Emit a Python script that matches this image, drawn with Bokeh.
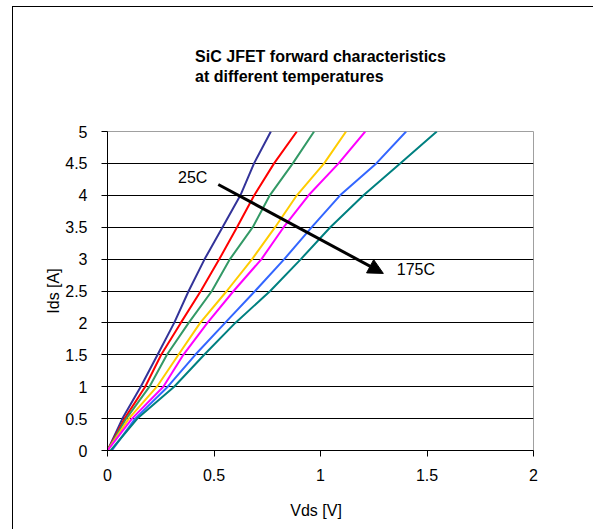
from bokeh.plotting import figure
from bokeh.models import Range1d, FixedTicker, Label, Arrow, NormalHead, InlineStyleSheet
from bokeh.embed import file_html
from bokeh.resources import INLINE

# ---- data ----
ids = [0, 0.5, 1, 1.5, 2, 2.5, 3, 3.5, 4, 4.5, 5]
vds_c1 = [0, 0.070, 0.156, 0.235, 0.313, 0.381, 0.456, 0.540, 0.624, 0.688, 0.767]
vds_c2 = [0, 0.080, 0.177, 0.252, 0.344, 0.438, 0.525, 0.608, 0.689, 0.782, 0.889]
vds_c3 = [0, 0.088, 0.197, 0.279, 0.381, 0.490, 0.575, 0.682, 0.762, 0.870, 0.970]
vds_c4 = [0, 0.100, 0.232, 0.333, 0.435, 0.560, 0.679, 0.787, 0.889, 1.017, 1.120]
vds_c5 = [0, 0.115, 0.262, 0.356, 0.469, 0.592, 0.723, 0.827, 0.944, 1.085, 1.210]
vds_c6 = [0.020, 0.130, 0.283, 0.412, 0.552, 0.693, 0.830, 0.959, 1.092, 1.262, 1.402]
vds_c7 = [0.015, 0.140, 0.313, 0.454, 0.600, 0.764, 0.908, 1.046, 1.202, 1.374, 1.546]
series = [vds_c1, vds_c2, vds_c3, vds_c4, vds_c5, vds_c6, vds_c7]
colors = ["#333399", "#FF0000", "#339966", "#FFCC00", "#FF00FF", "#3366FF", "#008080"]

x_ticks = [0, 0.5, 1, 1.5, 2]
x_tick_labels = ["0", "0.5", "1", "1.5", "2"]
y_ticks = [0, 0.5, 1, 1.5, 2, 2.5, 3, 3.5, 4, 4.5, 5]
y_tick_labels = ["0", "0.5", "1", "1.5", "2", "2.5", "3", "3.5", "4", "4.5", "5"]
grid_ticks = [0.5, 1, 1.5, 2, 2.5, 3, 3.5, 4, 4.5]

title_text = "SiC JFET forward characteristics\nat different temperatures"
label_lo = "25C"
label_hi = "175C"

FONT = "Liberation Sans"

# chart-area border (left and top edges are inside the picture)
border_css = InlineStyleSheet(css="""
:host { position: relative; }
:host::before {
  content: ""; position: absolute; left: 12px; top: 6px;
  width: 581px; height: 523px; box-sizing: border-box;
  border-left: 1px solid #000; border-top: 1px solid #000;
  pointer-events: none;
}
""")

p = figure(width=593, height=529, x_range=Range1d(0, 2), y_range=Range1d(0, 5),
           output_backend="svg", toolbar_location=None,
           min_border_left=107, min_border_right=60, min_border_top=109, min_border_bottom=79,
           background_fill_color="white", border_fill_color=None,
           stylesheets=[border_css])

p.title.text = title_text
p.title.align = "center"
p.title.text_font = FONT
p.title.text_font_size = "16px"
p.title.text_font_style = "bold"
p.title.text_color = "black"
p.title.text_line_height = 1.2
p.title.standoff = 92

p.outline_line_color = "#a0a0a0"
p.outline_line_width = 1

for v, c in zip(series, colors):
    p.line(v, ids, line_color=c, line_width=2)

xax = p.xaxis[0]
yax = p.yaxis[0]
for ax, ticks, labels in ((xax, x_ticks, x_tick_labels), (yax, y_ticks, y_tick_labels)):
    ax.ticker = FixedTicker(ticks=ticks)
    ax.major_label_overrides = {t: l for t, l in zip(ticks, labels)}
    ax.axis_line_color = "black"
    ax.axis_line_width = 1
    ax.major_tick_line_color = "black"
    ax.major_tick_out = 6
    ax.major_tick_in = 0
    ax.minor_tick_line_color = None
    ax.major_label_text_font = FONT
    ax.major_label_text_font_size = "16px"
    ax.major_label_text_color = "black"
    ax.axis_label_text_font = FONT
    ax.axis_label_text_font_size = "16px"
    ax.axis_label_text_font_style = "normal"
    ax.axis_label_text_color = "black"

xax.axis_label = "Vds   [V]"
yax.axis_label = "Ids [A]"
xax.major_label_standoff = 12
yax.major_label_standoff = 14
xax.axis_label_standoff = 18
yax.axis_label_standoff = 0

p.xgrid.grid_line_color = None
p.ygrid.ticker = FixedTicker(ticks=grid_ticks)
p.ygrid.grid_line_color = "black"
p.ygrid.grid_line_width = 1
p.ygrid.grid_line_alpha = 1

p.add_layout(Arrow(end=NormalHead(size=15, fill_color="black", line_color="black"),
                   x_start=0.520, y_start=4.17, x_end=1.295, y_end=2.776,
                   line_width=3, line_color="black"))
p.add_layout(Label(x=0.331, y=4.15, text=label_lo, text_font=FONT, text_font_size="16px",
                   text_color="black"))
p.add_layout(Label(x=1.358, y=2.71, text=label_hi, text_font=FONT, text_font_size="16px",
                   text_color="black"))

open("out.html", "w").write(file_html(p, INLINE))
